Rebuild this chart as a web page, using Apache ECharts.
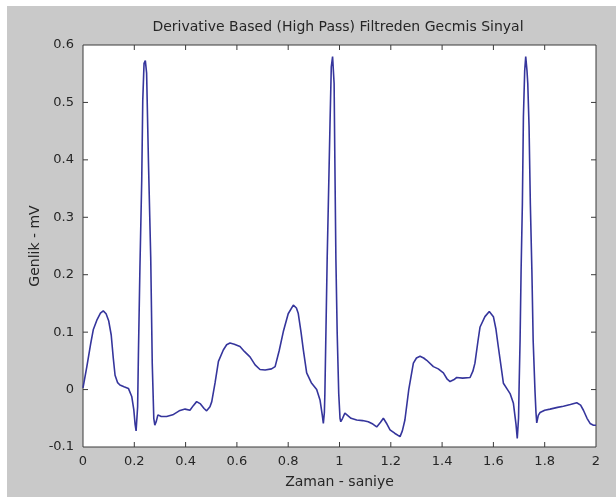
<!DOCTYPE html>
<html>
<head>
<meta charset="utf-8">
<script src="https://cdn.jsdelivr.net/npm/echarts@6/dist/echarts.min.js"></script>
<style>
html,body{margin:0;padding:0;background:#fff;}
#wrap{position:relative;width:616px;height:497px;background:#fff;overflow:hidden;}
#gray{position:absolute;left:7px;top:6px;width:609px;height:491px;background:#c9c9c9;}
#chart{position:absolute;left:0;top:0;width:616px;height:497px;}
</style>
</head>
<body>
<div id="wrap"><div id="gray"></div><div id="chart"></div></div>
<script>
const titleText = 'Derivative Based (High Pass) Filtreden Gecmis Sinyal';
const xName = 'Zaman - saniye';
const yName = 'Genlik - mV';
const xTicks = [0, 0.2, 0.4, 0.6, 0.8, 1, 1.2, 1.4, 1.6, 1.8, 2];
const yTicks = [-0.1, 0, 0.1, 0.2, 0.3, 0.4, 0.5, 0.6];

const time = [
0.000,0.015,0.030,0.040,0.055,0.068,0.079,0.090,0.100,0.110,0.118,0.125,0.135,0.144,0.160,0.177,0.190,0.198,0.203,0.207,
0.213,0.216,0.222,0.229,0.233,0.238,0.243,0.248,0.255,0.264,0.270,0.276,0.280,0.286,0.292,0.305,0.326,0.350,0.375,0.398,
0.417,0.430,0.443,0.458,0.472,0.482,0.495,0.502,0.515,0.528,0.547,0.560,0.573,0.590,0.612,0.630,0.651,0.671,0.690,0.710,
0.735,0.749,0.765,0.781,0.800,0.820,0.832,0.839,0.850,0.859,0.872,0.890,0.911,0.924,0.933,0.937,0.941,0.943,0.947,0.952,
0.956,0.963,0.968,0.973,0.979,0.982,0.986,0.991,0.997,1.002,1.005,1.012,1.021,1.028,1.045,1.067,1.090,1.112,1.130,1.145,
1.160,1.171,1.185,1.197,1.215,1.236,1.245,1.255,1.270,1.288,1.300,1.314,1.328,1.340,1.366,1.385,1.405,1.420,1.431,1.445,
1.457,1.480,1.509,1.520,1.528,1.540,1.548,1.567,1.584,1.600,1.610,1.619,1.630,1.639,1.655,1.665,1.678,1.688,1.693,1.698,
1.700,1.704,1.708,1.713,1.717,1.722,1.726,1.731,1.734,1.739,1.744,1.750,1.755,1.762,1.766,1.769,1.775,1.782,1.800,1.821,
1.850,1.873,1.900,1.925,1.940,1.951,1.965,1.977,1.990,2.000
];
const amplitude = [
0.003,0.040,0.080,0.104,0.122,0.133,0.137,0.132,0.120,0.095,0.055,0.025,0.012,0.008,0.005,0.002,-0.012,-0.035,-0.060,-0.072,
-0.030,0.060,0.214,0.365,0.504,0.568,0.573,0.551,0.400,0.231,0.045,-0.050,-0.062,-0.055,-0.044,-0.047,-0.047,-0.044,-0.037,-0.034,
-0.036,-0.028,-0.021,-0.025,-0.033,-0.037,-0.030,-0.021,0.012,0.049,0.069,0.078,0.081,0.079,0.075,0.066,0.057,0.043,0.035,0.034,
0.036,0.040,0.068,0.101,0.132,0.147,0.142,0.133,0.100,0.069,0.029,0.012,0.000,-0.018,-0.045,-0.059,-0.040,-0.007,0.098,0.229,
0.313,0.463,0.562,0.580,0.533,0.394,0.226,0.098,-0.007,-0.050,-0.056,-0.050,-0.041,-0.044,-0.050,-0.053,-0.054,-0.056,-0.060,-0.065,
-0.057,-0.050,-0.060,-0.070,-0.076,-0.082,-0.072,-0.053,0.000,0.046,0.055,0.058,0.055,0.051,0.040,0.036,0.029,0.018,0.014,0.017,
0.021,0.020,0.021,0.032,0.046,0.085,0.109,0.127,0.136,0.127,0.105,0.075,0.040,0.011,0.000,-0.007,-0.024,-0.060,-0.085,-0.050,
0.000,0.086,0.208,0.324,0.475,0.555,0.580,0.555,0.533,0.458,0.324,0.208,0.086,-0.001,-0.040,-0.058,-0.045,-0.040,-0.036,-0.034,
-0.031,-0.029,-0.026,-0.023,-0.027,-0.036,-0.050,-0.059,-0.062,-0.062
];

const seriesData = time.map((t, i) => [t, amplitude[i]]);
const FONT = 'DejaVu Sans, Verdana, sans-serif';
const TXT = '#262626';
const FRAME = '#3a3a3a';
const TICK_LEN = 5;

const xMin = xTicks[0], xMax = xTicks[xTicks.length - 1], xInt = +(xTicks[1] - xTicks[0]).toFixed(4);
const yMin = yTicks[0], yMax = yTicks[yTicks.length - 1], yInt = +(yTicks[1] - yTicks[0]).toFixed(4);

// inner tick marks on all four sides (MATLAB box style), placed through the axis scales
const xTickData = xTicks.slice(1, -1).map(t => [t, yMin]);
const yTickData = yTicks.slice(1, -1).map(v => [xMin, v]);
function tickLine(x1, y1, x2, y2) {
  return {type: 'line', shape: {x1, y1, x2, y2}, style: {stroke: FRAME, lineWidth: 1}};
}
function renderXTick(params, api) {
  const t = api.value(0);
  const b = api.coord([t, yMin]);
  const tp = api.coord([t, yMax]);
  return {type: 'group', children: [
    tickLine(b[0], b[1], b[0], b[1] - TICK_LEN),
    tickLine(tp[0], tp[1], tp[0], tp[1] + TICK_LEN)
  ]};
}
function renderYTick(params, api) {
  const v = api.value(1);
  const l = api.coord([xMin, v]);
  const r = api.coord([xMax, v]);
  return {type: 'group', children: [
    tickLine(l[0], l[1], l[0] + TICK_LEN, l[1]),
    tickLine(r[0], r[1], r[0] - TICK_LEN, r[1])
  ]};
}

const chart = echarts.init(document.getElementById('chart'), null, {renderer: 'canvas'});
chart.setOption({
  animation: false,
  title: {
    text: titleText, left: 333, top: 15, textAlign: 'center',
    textStyle: {fontFamily: FONT, fontSize: 14, fontWeight: 'normal', color: TXT}
  },
  grid: {left: 83, right: 20, top: 45, bottom: 50, show: true, backgroundColor: '#fff',
         borderColor: FRAME, borderWidth: 1},
  xAxis: {type: 'value', position: 'bottom', min: xMin, max: xMax, interval: xInt,
     name: xName, nameLocation: 'middle', nameGap: 28, nameMoveOverlap: false,
     nameTextStyle: {fontFamily: FONT, fontSize: 14, color: TXT},
     axisLine: {show: false, onZero: false},
     axisTick: {show: false},
     splitLine: {show: false},
     axisLabel: {fontFamily: FONT, fontSize: 13, color: TXT, margin: 8}},
  yAxis: {type: 'value', position: 'left', min: yMin, max: yMax, interval: yInt,
     name: yName, nameLocation: 'middle', nameGap: 41, nameRotate: 90, nameMoveOverlap: false,
     nameTextStyle: {fontFamily: FONT, fontSize: 14, color: TXT},
     axisLine: {show: false, onZero: false},
     axisTick: {show: false},
     splitLine: {show: false},
     axisLabel: {fontFamily: FONT, fontSize: 13, color: TXT, margin: 9}},
  series: [
    {type: 'line', data: seriesData, showSymbol: false, z: 3,
     lineStyle: {color: '#35359c', width: 1.6}},
    {type: 'custom', data: xTickData, renderItem: renderXTick, silent: true, clip: false, z: 4},
    {type: 'custom', data: yTickData, renderItem: renderYTick, silent: true, clip: false, z: 4}
  ]
});
</script>
</body>
</html>
